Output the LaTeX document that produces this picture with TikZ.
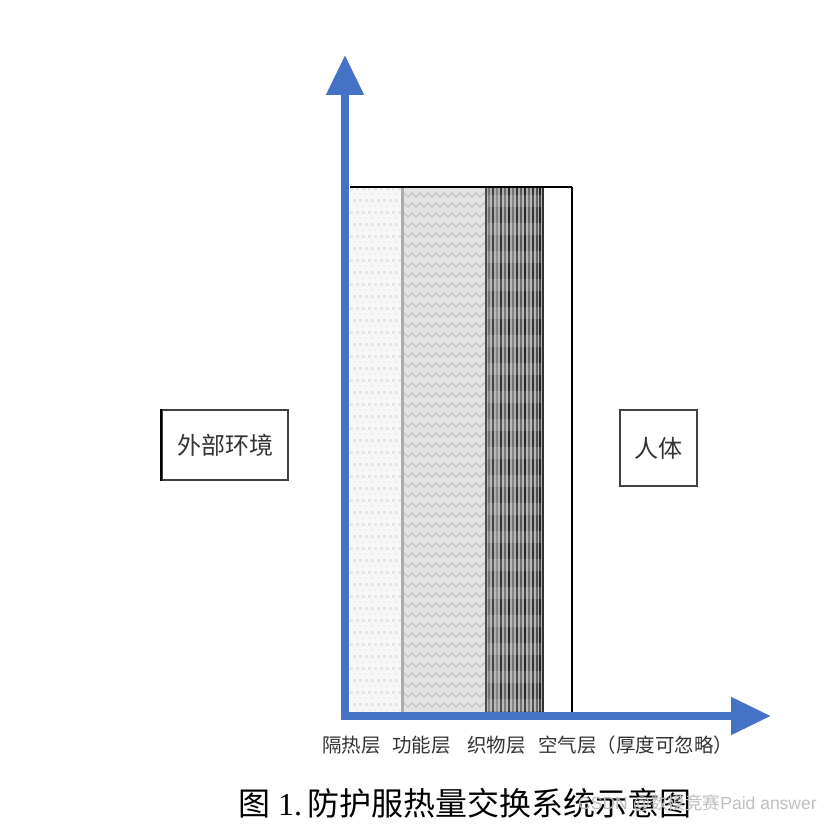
\documentclass[tikz,border=0pt]{standalone}
\usepackage{fontspec}
\setmainfont{Liberation Serif}
\newfontfamily\cjk{Noto Sans CJK SC}
\newfontfamily\wmfont{Liberation Sans}
\usetikzlibrary{arrows.meta}
\definecolor{axisblue}{HTML}{4472C4}
\tikzset{
  axisline/.style={draw=axisblue,line width=8pt,-{Triangle[length=40pt,width=36pt]}},
  labelbox/.style={draw=black!75,line width=1.2pt,inner sep=0pt,font=\cjk\fontsize{24}{24}\selectfont,text=black!80},
  layerlabel/.style={anchor=west,inner sep=0pt,font=\cjk\fontsize{19.5}{19.5}\selectfont,text=black!80},
}
\begin{document}
\begin{tikzpicture}[x=1pt,y=-1pt]
\useasboundingbox (0,0) rectangle (836,824);
\fill[white] (0,0) rectangle (836,824);
% layer 1: insulation, light checker
\fill[gray!6] (350,187) rectangle (402,712);
\begin{scope}
\clip (350,187) rectangle (402,712);
\foreach \i in {0,...,9}{
  \foreach \j in {0,...,44}{
    \pgfmathsetmacro\xx{350+\i*6+mod(\j,2)*3}
    \fill[gray!20] (\xx,{187+\j*12}) rectangle ++(3,3);
    \fill[gray!14] (\xx+3,{193+\j*12}) rectangle ++(2,2);
  }
}
\end{scope}
% layer 2: functional, zigzag
\fill[gray!22] (402,187) rectangle (486,712);
\begin{scope}
\clip (402,187) rectangle (486,712);
\foreach \j in {0,...,53}{
  \draw[gray!45,line width=1.3pt] (400,{187+\j*10}) \foreach \k in {1,...,12}{ -- ++(4,-4) -- ++(4,4)};
}
\end{scope}
% layer 3: fabric, dark stripes
\fill[gray!65] (486,187) rectangle (543,712);
\begin{scope}
\clip (486,187) rectangle (543,712);
\foreach \x/\c in {489/55,493/75,497/50,501/80,505/60,509/85,513/55,517/80,521/65,525/85,529/60,533/80,537/70,540/85}{
  \draw[black!\c,line width=2pt] (\x,187) -- (\x,712);
}
\foreach \j in {0,...,18}{
  \fill[white,opacity=0.15] (486,{195+\j*28}) rectangle (543,{207+\j*28});
}
\end{scope}
% separators
\draw[gray!65,line width=3pt] (402,187) -- (402,712);
\draw[black!70,line width=2pt] (486,187) -- (486,712);
\draw[black!80,line width=1.5pt] (543,187) -- (543,712);
\draw[black,line width=1.6pt] (572,187) -- (572,712);
\draw[black,line width=1.2pt] (350,187) -- (572,187);
% axes
\coordinate (origin) at (345,716);
\coordinate (ytip) at (345,55);
\coordinate (xtip) at (771,716);
\draw[axisline] (origin) -- (ytip);
\draw[axisline] (341,716) -- (xtip);
% boxes
\node[labelbox,minimum width=126pt,minimum height=70pt] (env) at (225,445) {外部环境};
\draw[black,line width=2pt] (env.north west) -- (env.south west);
\node[labelbox,minimum width=77pt,minimum height=76pt] (body) at (658.5,448) {人体};
% layer labels
\node[layerlabel] (l1) at (322,745) {隔热层};
\node[layerlabel] (l2) at (392,745) {功能层};
\node[layerlabel] (l3) at (467,745) {织物层};
\node[layerlabel] (l4) at (538,745) {空气层（厚度可忽略）};
% caption
\node[anchor=west,inner sep=0pt,font=\fontsize{32}{32}\selectfont] (cap) at (238,803) {{\cjk 图} 1.\,{\cjk 防护服热量交换系统示意图}};
\node[anchor=west,inner sep=0pt,text=gray!50,font=\wmfont\fontsize{17.5}{17.5}\selectfont] (wm) at (578,803) {CSDN @{\cjk 数模竞赛}Paid answer};
\end{tikzpicture}
\end{document}
